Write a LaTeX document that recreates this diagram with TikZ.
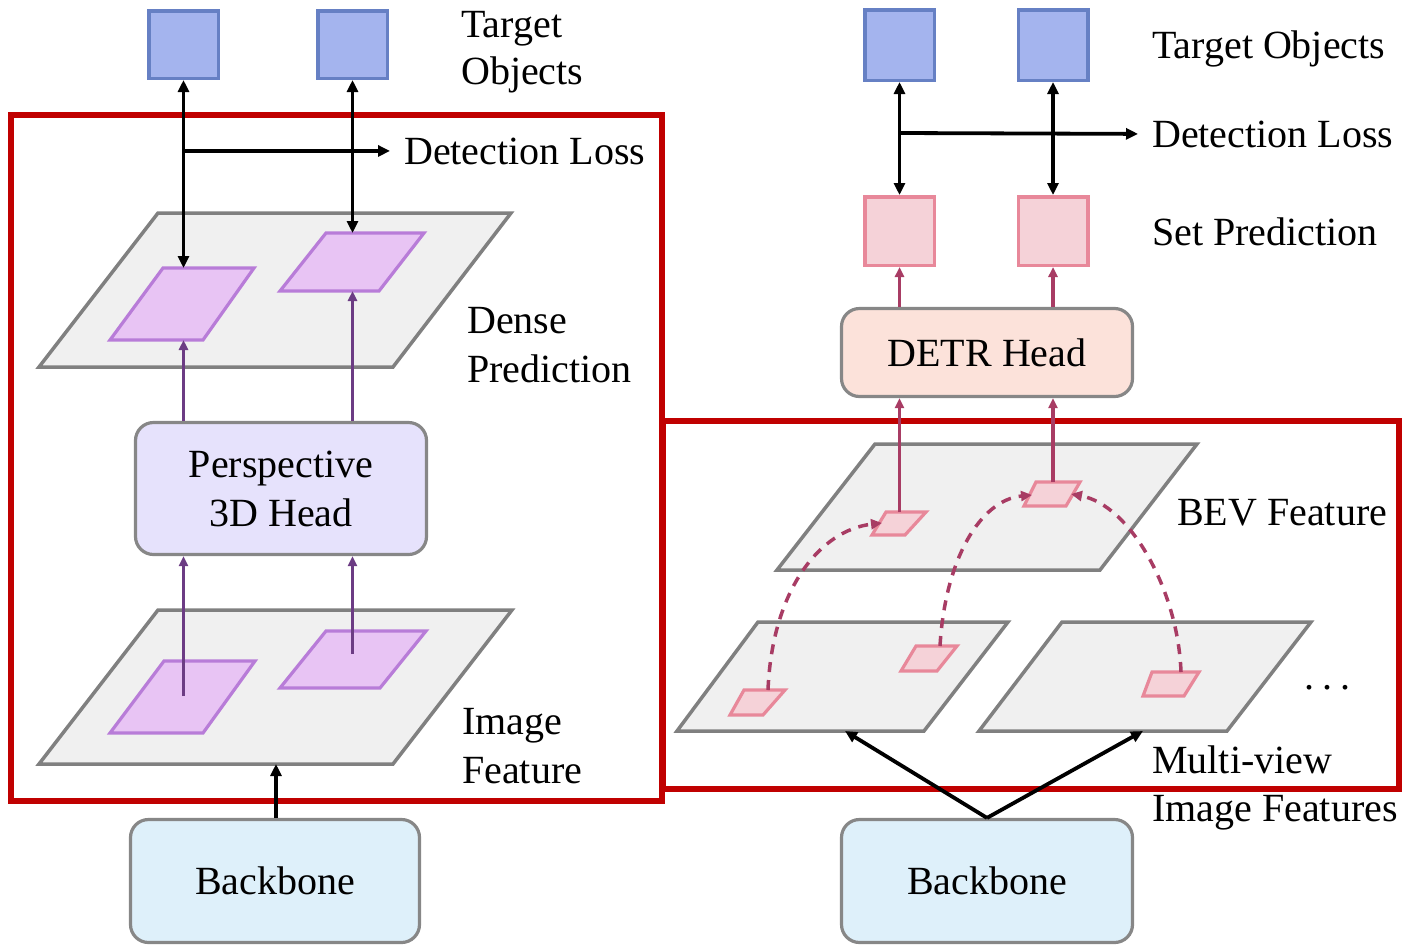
\documentclass[tikz,border=0pt]{standalone}
\usepackage{fontspec}
\setmainfont{Liberation Serif}
\usetikzlibrary{arrows.meta}

\definecolor{redframe}{HTML}{C00000}
\definecolor{tgtfill}{HTML}{A4B4EE}
\definecolor{tgtedge}{HTML}{6680C4}
\definecolor{setfill}{HTML}{F5D2D8}
\definecolor{setedge}{HTML}{E8889A}
\definecolor{magfill}{HTML}{E8C4F4}
\definecolor{magedge}{HTML}{B87CD8}
\definecolor{planefill}{HTML}{F0F0F0}
\definecolor{planeedge}{HTML}{808080}
\definecolor{headfill}{HTML}{E6E2FC}
\definecolor{detrfill}{HTML}{FCE2DA}
\definecolor{bbfill}{HTML}{DEF0FA}
\definecolor{boxedge}{HTML}{878787}
\definecolor{purp}{HTML}{6C3C84}
\definecolor{pinkdark}{HTML}{A83C64}

\begin{document}
\begin{tikzpicture}[x=1pt,y=-1pt,
  txt/.style={font=\fontsize{40}{48}\selectfont, inner sep=0pt, anchor=base west},
  frame/.style={draw=redframe, line width=5.5pt},
  plane/.style={draw=planeedge, fill=planefill, line width=3.5pt, line join=miter},
  magpatch/.style={draw=magedge, fill=magfill, line width=3.2pt},
  pinkpatch/.style={draw=setedge, fill=setfill, line width=3.2pt},
  tgtbox/.style={draw=tgtedge, fill=tgtfill, line width=3.5pt, inner sep=0pt, minimum width=69.5pt},
  setbox/.style={draw=setedge, fill=setfill, line width=3.5pt, inner sep=0pt, minimum width=69.5pt, minimum height=68.5pt},
  modbox/.style={draw=boxedge, line width=3.2pt, rounded corners=18pt, inner sep=0pt, align=center,
    font=\fontsize{40}{49}\selectfont},
  blk/.style={draw=black, line width=3.8pt, -{Triangle[length=12pt,width=11pt]}},
  dblblk/.style={draw=black, line width=3.8pt, {Triangle[length=12pt,width=11pt]}-{Triangle[length=12pt,width=11pt]}},
  purarrow/.style={draw=purp, line width=3.3pt, -{Triangle[length=10pt,width=9pt]}},
  pkarrow/.style={draw=pinkdark, line width=3.3pt, -{Triangle[length=10pt,width=9pt]}},
  dasharc/.style={draw=pinkdark, line width=3.5pt, dash pattern=on 10pt off 8pt, -{Triangle[length=11pt,width=10pt]}}
]
\useasboundingbox (0,0) rectangle (1402,946);

% ---------- red frames ----------
\draw[frame] (11,115) rectangle (662,801);
\draw[frame] (663,421) rectangle (1399,789);

% =================== left: perspective detector ===================
% feature planes
\filldraw[plane] (158,213) -- (511,213) -- (393,367) -- (39,367) -- cycle;
\filldraw[plane] (158,610) -- (512,610) -- (393,764) -- (39,764) -- cycle;
% dense prediction patches
\filldraw[magpatch] (163,268) -- (254,268) -- (203,340) -- (110,340) -- cycle;
\filldraw[magpatch] (326,233) -- (424,233) -- (379,291) -- (280,291) -- cycle;
% image feature patches
\filldraw[magpatch] (164,661) -- (255,661) -- (203,733) -- (110,733) -- cycle;
\filldraw[magpatch] (326,631) -- (426,631) -- (380,688) -- (280,688) -- cycle;

\coordinate (dpA) at (183.5,268);
\coordinate (dpB) at (352.5,233);
\coordinate (dpAb) at (183.5,340);
\coordinate (dpBb) at (352.5,291);
\coordinate (ifA) at (183.5,696);
\coordinate (ifB) at (352.5,654);
\coordinate (ifBottom) at (276,764);
\coordinate (lossStartL) at (183.5,151);

\node[tgtbox, minimum height=67.5pt] (tA) at (183.5,44.5) {};
\node[tgtbox, minimum height=67.5pt] (tB) at (352.5,44.5) {};

\node[modbox, fill=headfill, minimum width=291pt, minimum height=132pt] (ph) at (281,488.5)
  {Perspective\\3D Head};
\node[modbox, fill=bbfill, minimum width=289pt, minimum height=123pt] (bbL) at (275,881) {Backbone};

\node[txt] at (461,37) {Target};
\node[txt] at (461,84) {Objects};
\node[txt] (lossL) at (404,164) {Detection Loss};
\node[txt] at (467,333) {Dense};
\node[txt] at (467,382) {Prediction};
\node[txt] at (462,734) {Image};
\node[txt] at (462,783) {Feature};

% connectors
\draw[dblblk] (tA.south) -- (dpA);
\draw[dblblk] (tB.south) -- (dpB);
\draw[blk, shorten >=14pt] (lossStartL) -- (lossL.west);
\draw[purarrow] (ph.north -| dpAb) -- (dpAb);
\draw[purarrow] (ph.north -| dpBb) -- (dpBb);
\draw[purarrow] (ifA) -- (ph.south -| ifA);
\draw[purarrow] (ifB) -- (ph.south -| ifB);
\draw[blk] (bbL.north -| ifBottom) -- (ifBottom);

% =================== right: BEV / DETR detector ===================
% BEV plane and multi-view image planes
\filldraw[plane] (875,444) -- (1197,444) -- (1100,570) -- (777,570) -- cycle;
\filldraw[plane] (758,622) -- (1008,622) -- (924,731) -- (677,731) -- cycle;
\filldraw[plane] (1062,622) -- (1311,622) -- (1227,731) -- (979,731) -- cycle;
% BEV queries
\filldraw[pinkpatch] (886,512) -- (926,512) -- (905,535) -- (872,535) -- cycle;
\filldraw[pinkpatch] (1036,482) -- (1080,482) -- (1066,506) -- (1024,506) -- cycle;
% sampled image points
\filldraw[pinkpatch] (744,690) -- (785,690) -- (763,715) -- (730,715) -- cycle;
\filldraw[pinkpatch] (916,646) -- (957,646) -- (937,671) -- (901,671) -- cycle;
\filldraw[pinkpatch] (1152,672) -- (1199,672) -- (1184,696) -- (1143,696) -- cycle;

\coordinate (bevA) at (899.5,512);
\coordinate (bevB) at (1053,482);
\coordinate (bevAin) at (882,523);
\coordinate (bevBl) at (1032,495);
\coordinate (bevBr) at (1071,494);
\coordinate (imgA) at (768,690);
\coordinate (imgB) at (940,646);
\coordinate (imgC) at (1181,672);
\coordinate (mvL) at (845,731);
\coordinate (mvR) at (1143,731);
\coordinate (lossStartR) at (899.5,133);

\node[tgtbox, minimum height=70.5pt] (tC) at (899.5,45) {};
\node[tgtbox, minimum height=70.5pt] (tD) at (1053,45) {};
\node[setbox] (pC) at (899.5,231) {};
\node[setbox] (pD) at (1053,231) {};

\node[modbox, fill=detrfill, minimum width=291pt, minimum height=88pt] (dh) at (987,352.5) {DETR Head};
\node[modbox, fill=bbfill, minimum width=291pt, minimum height=123pt] (bbR) at (987,881) {Backbone};

\node[txt] at (1152,58) {Target Objects};
\node[txt] (lossR) at (1152,147) {Detection Loss};
\node[txt] at (1152,245) {Set Prediction};
\node[txt] at (1177,525) {BEV Feature};
\node[txt] at (1304,689) {.\kern8pt.\kern8pt.};
\node[txt] at (1152,773) {Multi-view};
\node[txt] at (1152,821) {Image Features};

% connectors
\draw[dblblk] (tC.south) -- (pC.north);
\draw[dblblk] (tD.south) -- (pD.north);
\draw[blk, shorten >=14pt] (lossStartR) -- (lossR.west);
\draw[pkarrow] (dh.north -| pC.south) -- (pC.south);
\draw[pkarrow] (dh.north -| pD.south) -- (pD.south);
\draw[pkarrow] (bevA) -- (dh.south -| bevA);
\draw[pkarrow] (bevB) -- (dh.south -| bevB);
\draw[dasharc] (imgA) .. controls (772,590) and (820,530) .. (bevAin);
\draw[dasharc] (imgB) .. controls (945,560) and (980,500) .. (bevBl);
\draw[dasharc] (imgC) .. controls (1178,590) and (1130,505) .. (bevBr);
\draw[blk] (bbR.north) -- (mvL);
\draw[blk] (bbR.north) -- (mvR);
\end{tikzpicture}
\end{document}
